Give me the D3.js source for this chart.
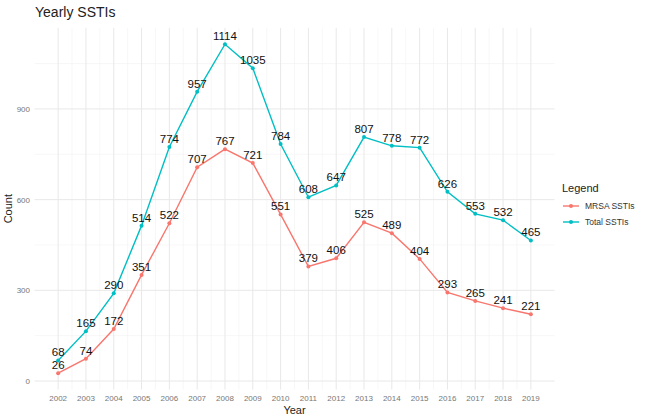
<!DOCTYPE html>
<html><head><meta charset="utf-8">
<script src="https://cdn.jsdelivr.net/npm/d3@7"></script>
<style>body{margin:0;background:#fff;}svg{display:block;font-family:"Liberation Sans",Arial,sans-serif;}</style>
</head><body>
<svg id="c" width="650" height="419"></svg>
<script>
const years = [2002,2003,2004,2005,2006,2007,2008,2009,2010,2011,2012,2013,2014,2015,2016,2017,2018,2019];
const mrsa = [26,74,172,351,522,707,767,721,551,379,406,525,489,404,293,265,241,221];
const total = [68,165,290,514,774,957,1114,1035,784,608,647,807,778,772,626,553,532,465];
const yTicks = [0,300,600,900];
const yMinor = [150,450,750,1050];
const seriesNames = ["MRSA SSTIs","Total SSTIs"];
const colors = ["#F8766D","#00BFC4"];

const svg = d3.select("#c");
const x = d3.scaleLinear().domain([2001.15,2019.85]).range([34.5,554.5]);
const y = d3.scaleLinear().domain([-28.4,1168.4]).range([389.6,27.8]);
const g = svg.append("g");
// grid
g.selectAll(".ym").data(yMinor).join("line").attr("x1",34.5).attr("x2",554.5)
 .attr("y1",d=>y(d)).attr("y2",d=>y(d)).attr("stroke","#f2f2f2").attr("stroke-width",0.6);
g.selectAll(".xm").data(years.slice(0,-1).map(v=>v+0.5)).join("line").attr("y1",27.8).attr("y2",389.6)
 .attr("x1",d=>x(d)).attr("x2",d=>x(d)).attr("stroke","#f2f2f2").attr("stroke-width",0.6);
g.selectAll(".yM").data(yTicks).join("line").attr("x1",34.5).attr("x2",554.5)
 .attr("y1",d=>y(d)).attr("y2",d=>y(d)).attr("stroke","#e8e8e8").attr("stroke-width",1);
g.selectAll(".xM").data(years).join("line").attr("y1",27.8).attr("y2",389.6)
 .attr("x1",d=>x(d)).attr("x2",d=>x(d)).attr("stroke","#e8e8e8").attr("stroke-width",1);
// axis labels
g.selectAll(".yl").data(yTicks).join("text").attr("x",30).attr("y",d=>y(d)+3)
 .attr("text-anchor","end").attr("font-size",8).attr("fill","#777").text(d=>d);
g.selectAll(".xl").data(years).join("text").attr("x",d=>x(d)).attr("y",401)
 .attr("text-anchor","middle").attr("font-size",8).attr("fill","#777").text(d=>d);
svg.append("text").attr("x",x(2010.5)).attr("y",414).attr("text-anchor","middle").attr("font-size",11).attr("fill","#222").text("Year");
svg.append("text").attr("transform","translate(12,"+y(570)+") rotate(-90)").attr("text-anchor","middle").attr("font-size",11).attr("fill","#222").text("Count");
svg.append("text").attr("x",35).attr("y",17).attr("font-size",14).attr("fill","#222").text("Yearly SSTIs");

const line = d3.line().x((d,i)=>x(years[i])).y(d=>y(d));
[mrsa,total].forEach((s,k)=>{
  g.append("path").datum(s).attr("d",line).attr("fill","none").attr("stroke",colors[k]).attr("stroke-width",1.4);
  g.selectAll(".p"+k).data(s).join("circle").attr("cx",(d,i)=>x(years[i])).attr("cy",d=>y(d)).attr("r",2).attr("fill",colors[k]);
  g.selectAll(".t"+k).data(s).join("text").attr("x",(d,i)=>x(years[i])).attr("y",d=>y(d)-4)
   .attr("text-anchor","middle").attr("font-size",11.5).attr("fill","#111").text(d=>d);
});
// legend
const lg = svg.append("g").attr("transform","translate(560,0)");
lg.append("text").attr("x",2).attr("y",192).attr("font-size",11).attr("fill","#222").text("Legend");
seriesNames.forEach((n,k)=>{
  const yy = 206 + k*16;
  lg.append("line").attr("x1",3).attr("x2",19).attr("y1",yy).attr("y2",yy).attr("stroke",colors[k]).attr("stroke-width",1.4);
  lg.append("circle").attr("cx",11).attr("cy",yy).attr("r",2).attr("fill",colors[k]);
  lg.append("text").attr("x",25).attr("y",yy+3).attr("font-size",8.5).attr("fill","#333").text(n);
});
</script>
</body></html>
